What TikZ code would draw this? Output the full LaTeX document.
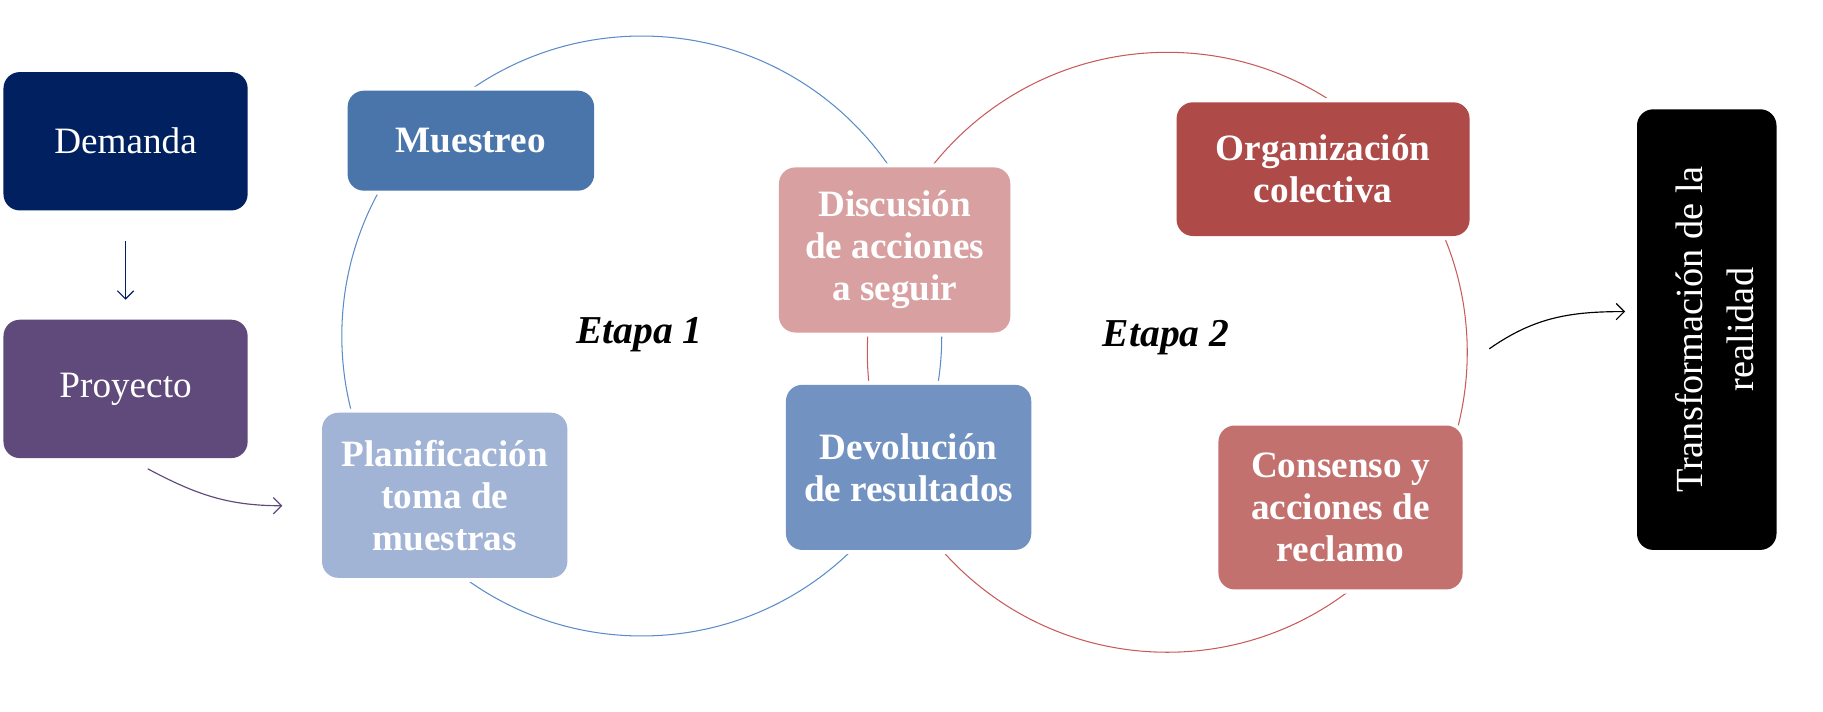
\documentclass[tikz,border=0pt]{standalone}
\usepackage{fontspec}
\setmainfont{Liberation Serif}
\usetikzlibrary{arrows.meta}
\definecolor{cDem}{RGB}{1,32,96}
\definecolor{cPro}{RGB}{96,74,123}
\definecolor{cMue}{RGB}{73,117,170}
\definecolor{cPla}{RGB}{161,180,214}
\definecolor{cDis}{RGB}{216,160,160}
\definecolor{cDev}{RGB}{114,147,194}
\definecolor{cOrg}{RGB}{174,74,72}
\definecolor{cCon}{RGB}{195,113,110}
\definecolor{cBlueLine}{RGB}{90,140,200}
\definecolor{cRedLine}{RGB}{200,90,90}
\tikzset{
  box/.style={rounded corners=14pt, inner sep=0pt, text=white, align=center,
    font=\fontsize{32}{36}\selectfont\bfseries,
    preaction={draw=white, line width=7pt}},
  plainbox/.style={box, font=\fontsize{32}{36}\selectfont},
  ring/.style={line width=0.9pt},
  conn/.style={line width=1pt, -{Straight Barb[length=7pt, width=14pt]}},
  stage/.style={font=\fontsize{34}{38}\selectfont\bfseries\itshape}
}
\begin{document}
\begin{tikzpicture}[x=1pt, y=-1pt]
\useasboundingbox (0,0) rectangle (1568,612);
% rings
\draw[ring, cBlueLine] (552,289) circle[radius=258pt];
\draw[ring, cRedLine] (1004,303) circle[radius=258pt];
% left column
\node[plainbox, fill=cDem, minimum width=210pt, minimum height=119pt] (dem) at (108,121.5) {Demanda};
\node[plainbox, fill=cPro, minimum width=210pt, minimum height=119pt] (pro) at (108,334.5) {Proyecto};
% stage 1
\node[box, fill=cMue, minimum width=212pt, minimum height=86pt] (mue) at (405,121) {Muestreo};
\node[box, fill=cPla, minimum width=211pt, minimum height=142pt] (pla) at (382.5,426) {Planificación\\toma de\\muestras};
\node[box, fill=cDis, minimum width=199pt, minimum height=142pt] (dis) at (769.5,215) {Discusión\\de acciones\\a seguir};
\node[box, fill=cDev, minimum width=211pt, minimum height=142pt] (dev) at (781.5,402) {Devolución\\de resultados};
% stage 2
\node[box, fill=cOrg, minimum width=252pt, minimum height=115pt] (org) at (1138,145.5) {Organización\\colectiva};
\node[box, fill=cCon, minimum width=210pt, minimum height=141pt] (con) at (1153,436.5) {Consenso y\\acciones de\\reclamo};
% result
\node[plainbox, fill=black, minimum width=120pt, minimum height=379pt] (tra) at (1468,283.5) {};
\node[rotate=90, text=white, align=center, font=\fontsize{33}{44}\selectfont, inner sep=0pt] (tratext) at (1475,283.5) {Transformación de la\\realidad};
% stage labels
\node[stage] (e1) at (550,288) {Etapa 1};
\node[stage] (e2) at (1003,290) {Etapa 2};
% connectors
\draw[conn, cDem] ([yshift=-26pt]dem.south) -- ([yshift=17pt]pro.north);
\coordinate (p1) at ([xshift=19pt, yshift=-9pt]pro.south);
\coordinate (p2) at ([xshift=-34pt, yshift=-9pt]pla.west);
\draw[conn, cPro] (p1) to[out=-28, in=180] (p2);
\coordinate (q1) at (1281,300);
\coordinate (q2) at ([xshift=-10pt, yshift=15.5pt]tra.west);
\draw[conn, black] (q1) to[out=35, in=180] (q2);
\end{tikzpicture}
\end{document}
